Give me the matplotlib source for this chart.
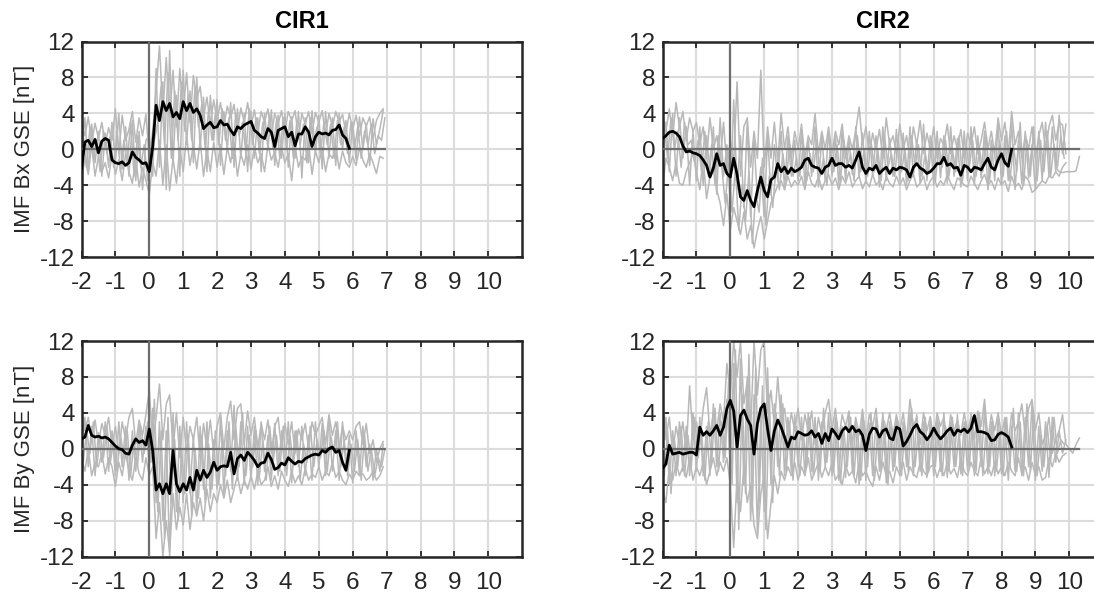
import numpy as np
import matplotlib
matplotlib.use('Agg')
import matplotlib.pyplot as plt

plt.rcParams['font.family'] = ['Liberation Sans', 'DejaVu Sans']
plt.rcParams['axes.unicode_minus'] = False

DT = 0.1  # days between samples

# ---- CIR1, IMF Bx (start -2.0 d) ----
cir1_bx_mean = [
    -2.1, 0.8, 1.0, 0.3, 1.1, -0.4, 0.9, 1.2, 1.0, -1.2,
    -1.5, -1.6, -1.4, -1.8, -1.5, -0.3, -0.9, -1.2, -1.6, -1.5,
    -2.5, 0.3, 4.9, 3.2, 5.3, 4.3, 5.1, 3.6, 4.1, 3.4,
    5.3, 4.3, 5.1, 4.1, 4.5, 3.8, 2.3, 2.7, 3.0, 2.4,
    2.5, 3.2, 2.7, 2.8, 2.1, 1.6, 2.5, 2.3, 2.7, 2.9,
    3.1, 2.1, 1.8, 1.4, 1.2, 2.3, 1.9, 0.3, 2.1, 2.3,
    2.5, 1.4, 1.9, 0.4, 1.7, 1.7, 2.5, 1.9, 0.3, 1.4,
    1.9, 1.7, 1.8, 1.6, 2.1, 2.2, 2.7, 1.6, 1.2, 0.1,
]
cir1_bx_ev1 = [
    3.2, 1.5, 3.6, 0.8, 2.9, 1.2, 3.0, 0.5, 2.4, 1.0,
    4.5, -0.5, 3.8, 1.0, 2.2, 4.2, 0.8, 3.5, 1.5, 3.9,
    -1.0, 2.0, 6.5, 11.5, 4.0, 10.2, 3.5, 8.8, 2.5, 9.0,
    4.0, 8.5, 3.0, 8.2, 5.5, 7.0, 3.5, 5.8, 2.8, 5.5,
    3.2, 5.2, 2.5, 4.8, 3.5, 5.0, 2.0, 4.6, 3.0, 5.2,
    2.5, 4.4, 1.8, 4.2, 3.0, 4.5, 1.5, 4.0, 2.8, 4.3,
    2.0, 4.2, 3.2, 4.3, 1.2, 4.0, 2.8, 4.2, 1.8, 4.1,
    3.0, 4.3, 1.5, 4.0, 2.5, 4.2, 3.0, 3.9, 1.8, 4.0,
    2.2, 3.8, 1.5, 3.5, 2.6, 3.6, 1.2, 3.2, 4.0, 4.5,
]
cir1_bx_ev2 = [
    -3.5, -1.0, -2.8, 0.5, -3.0, -0.8, -2.5, -1.5, -3.2, -0.5,
    -2.8, -1.2, -3.5, -0.5, -2.5, -3.8, -1.0, -4.2, -2.0, -3.5,
    -5.0, -1.5, -3.0, 1.0, -4.0, 0.5, -4.6, -1.0, -3.8, 0.2,
    -2.5, 1.5, -1.8, 0.5, -2.2, 1.0, -3.0, 0.0, -2.5, 0.8,
    -2.0, 0.5, -2.8, 0.2, -1.5, 0.8, -3.0, -0.5, -1.8, 0.5,
    -2.2, 0.3, -1.5, -0.5, -2.5, 0.5, -1.2, -0.3, -2.0, 0.2,
    -1.5, -0.5, -3.5, 0.3, -2.0, -0.8, -1.2, 0.5, -2.8, -0.2,
    -1.5, 0.2, -2.5, -0.5, -1.0, 0.4, -2.2, -0.2, -1.5, -2.0,
    -0.8, -1.8, 0.2, -1.2, -2.0, -0.5, -1.5, -2.7, -0.8, -1.0,
]
cir1_bx_ev3 = [
    0.0, 3.5, -2.5, 2.8, -1.5, 2.0, -3.0, 1.8, -2.0, 3.0,
    -1.5, 4.0, -2.2, 2.5, -3.0, 3.2, -3.5, 2.0, -4.5, 1.0,
    1.5, -3.0, 9.0, -2.0, 7.5, -4.5, 11.0, -1.5, 6.0, -3.0,
    8.8, 0.5, 6.5, -1.5, 8.0, 0.0, 5.8, -2.5, 6.0, 1.0,
    5.5, -1.8, 4.2, 0.0, 5.2, -2.0, 4.5, -1.0, 4.0, -2.5,
    4.2, -1.0, 3.5, -2.5, 4.0, 0.0, 4.4, -1.8, 3.8, -1.0,
    4.0, -2.0, 3.6, -1.0, 4.2, -3.2, 3.5, -1.5, 4.3, -0.5,
    3.8, -2.2, 4.2, -1.0, 3.5, -1.8, 4.0, 0.0, 3.2, -1.5,
    3.0, -1.2, 3.6, 0.0, 2.8, -1.8, 3.4, 0.5, 2.2, 4.3,
]
# sampled half a step later (start -1.95 d)
cir1_bx_ev4 = [
    1.5, -2.0, 2.5, -1.0, 1.0, -2.5, 2.0, -0.5, 1.5, -2.0,
    2.0, -2.5, 1.0, -1.5, 3.0, -3.0, 1.5, -2.0, 0.5, -3.5,
    -1.5, 1.0, 3.0, 7.0, 0.5, 8.5, -1.0, 6.5, 1.0, 7.5,
    2.0, 6.0, 1.0, 7.0, 2.5, 5.0, 0.0, 4.5, 1.0, 4.0,
    0.5, 4.5, 1.0, 3.5, -1.0, 4.0, 1.5, 3.0, -0.5, 4.5,
    0.5, 3.5, -0.5, 3.0, 1.0, 3.8, 0.0, 3.2, -1.0, 3.5,
    0.0, 3.2, -1.0, 3.0, 0.5, 2.8, -1.5, 3.5, 0.5, 2.5,
    -0.5, 3.0, 0.5, 2.8, -1.0, 3.2, 0.5, 2.5, -0.5, 3.0,
    0.0, 2.5, -1.0, 2.0, 0.5, 2.8, -0.5, 1.5, 1.0, 3.5,
]

# ---- CIR2, IMF Bx ----
cir2_bx_mean = [
    1.2, 1.5, 1.9, 2.0, 1.8, 1.4, 0.4, -0.3, -0.2, -0.4,
    -0.5, -0.7, -1.2, -1.8, -3.1, -2.1, -0.5, -1.8, -1.6, -2.7,
    -3.1, -1.0, -2.8, -5.3, -5.7, -4.6, -5.7, -6.4, -4.6, -3.1,
    -4.6, -5.3, -3.4, -3.1, -1.6, -2.5, -2.0, -2.7, -2.1, -2.5,
    -2.3, -2.0, -1.2, -1.0, -1.8, -2.0, -2.1, -2.7, -2.0, -1.8,
    -1.0, -1.8, -1.6, -1.6, -2.0, -1.8, -2.1, -1.2, -0.3, -2.0,
    -2.7, -2.1, -2.3, -1.8, -2.7, -2.3, -2.0, -2.7, -2.1, -2.3,
    -2.0, -2.1, -2.3, -3.1, -2.0, -1.6, -2.1, -2.3, -2.7, -2.5,
    -2.1, -1.6, -1.6, -0.9, -1.8, -1.6, -2.1, -2.0, -2.9, -1.8,
    -2.0, -2.5, -2.0, -2.1, -2.3, -1.6, -1.0, -2.0, -2.3, -1.2,
    -0.5, -1.5, -1.9, 0.0,
]
cir2_bx_ev1 = [
    4.0, 2.0, 4.5, 1.5, 5.2, 2.5, 4.2, 1.0, 3.5, 2.0,
    3.0, 0.5, 2.5, -1.0, 3.5, 0.0, 1.5, -1.5, 3.0, -2.0,
    1.0, -1.5, 7.5, -3.0, 2.5, 3.5, -2.0, 2.0, -1.0, 8.8,
    -2.0, 2.5, -1.0, 3.0, -1.5, 4.0, 0.0, 2.5, -1.0, 2.0,
    0.0, 2.8, -1.0, 1.5, 0.5, 4.0, -0.5, 2.0, 0.0, 2.5,
    -0.5, 2.0, 0.5, 2.8, -1.0, 1.5, 0.0, 2.0, 4.7, 0.5,
    2.5, -0.5, 1.8, 0.0, 2.2, -1.0, 3.5, 0.5, 1.5, -0.5,
    2.8, 0.0, 1.5, -1.0, 2.5, 0.5, 3.2, -0.5, 1.8, 0.0,
    2.5, -1.0, 1.2, 0.5, 2.8, -0.5, 1.5, 0.0, 2.2, -1.0,
    1.8, 0.5, 2.5, -0.5, 1.0, 3.0, 0.0, 2.0, -0.5, 3.5,
    1.0, 3.0, -0.5, 4.2, 0.5, 2.0, -1.0, 1.5, 0.0, 2.5,
    -1.0, 1.5, 3.0, 0.0, 2.5, 3.8, 1.0, 3.0, 2.7, -0.5,
]
cir2_bx_ev2 = [
    -4.5, -1.0, -2.0, -3.5, -1.5, -3.8, -4.0, -2.5, -1.5, -0.5,
    -2.5, -4.5, -1.0, -5.5, -3.0, -1.5, -4.5, -6.0, -8.5, -5.0,
    -9.0, -6.5, -8.0, -9.5, -7.0, -10.0, -8.5, -11.0, -9.0, -7.5,
    -10.0, -8.0, -6.0, -5.0, -4.0, -3.5, -4.5, -3.0, -4.2, -3.5,
    -4.0, -3.0, -4.5, -2.5, -3.8, -4.2, -3.0, -4.5, -3.5, -2.8,
    -4.0, -3.2, -4.5, -3.0, -3.8, -2.5, -4.2, -3.5, -3.0, -4.4,
    -3.5, -4.2, -2.8, -4.0, -3.5, -4.5, -3.0, -3.8, -4.2, -3.0,
    -4.0, -3.2, -4.5, -3.5, -2.8, -4.2, -3.8, -3.0, -4.5, -3.5,
    -3.0, -4.2, -3.5, -4.0, -2.8, -3.8, -4.5, -3.2, -3.5, -4.0,
    -4.2, -3.0, -3.8, -4.5, -3.5, -2.8, -4.0, -3.5, -4.5, -3.2,
    -4.0, -3.5, -4.7, -3.0, -4.2, -3.8, -4.5, -3.0, -3.5, -4.8,
    -4.5, -4.0, -3.5, -3.8, -3.0, -3.2, -2.5, -3.0, -2.0, -1.5,
]
cir2_bx_ev3 = [
    0.0, 3.0, -2.5, 4.0, -3.0, 3.5, -1.0, 2.5, -4.0, 2.0,
    -3.5, 2.5, -4.0, 1.5, -2.5, 2.5, -5.0, 3.5, -3.0, 0.5,
    -6.0, 5.5, -4.5, 1.5, -6.5, 3.0, -7.5, 1.0, -5.5, -2.0,
    -7.5, 1.5, -5.0, 0.5, -3.5, 2.0, -4.5, 1.5, -3.0, 1.0,
    -3.5, 2.0, -4.0, 1.0, -3.0, 2.5, -4.2, 1.5, -3.5, 2.0,
    -3.0, 1.5, -4.0, 2.2, -3.5, 1.0, -2.8, 2.5, -3.2, 1.8,
    -3.8, 2.0, -3.0, 1.5, -4.2, 2.5, -3.5, 1.2, -3.0, 2.2,
    -3.5, 1.8, -4.0, 2.5, -3.0, 1.0, -3.8, 2.8, -3.5, 1.5,
    -4.0, 2.0, -3.2, 1.5, -3.8, 2.5, -3.0, 1.2, -4.2, 2.0,
    -3.5, 2.5, -4.0, 1.5, -3.2, 2.0, -4.5, 1.0, -3.5, 2.8,
    -4.0, 1.5, -3.5, 3.0, -4.5, 1.0, -3.8, 2.0, -3.2, 0.5,
    -4.5, 2.0, -3.5, 3.0, -3.0, 2.5, -2.5, 3.8, -0.5, 2.8,
]
cir2_bx_ev4 = [
    2.5, -1.0, 3.5, 0.0, 2.0, -2.0, 3.0, 0.5, 1.0, -1.5,
    1.0, -2.5, 2.0, -3.0, 0.5, -4.0, 1.5, -2.0, -6.0, -1.5,
    -7.0, -2.0, -9.0, -4.0, -8.0, -2.5, -10.5, -5.0, -7.0, -1.0,
    -8.5, -3.0, -6.5, -2.0, -4.5, -0.5, -3.5, 0.5, -3.0, -1.0,
    -3.0, 0.5, -3.5, -0.5, -2.5, 1.0, -3.0, -1.0, -4.0, 0.0,
    -2.5, 0.5, -3.5, 1.0, -2.0, -0.5, -3.5, 1.5, -2.5, 0.0,
    -3.0, 1.0, -2.5, 0.0, -3.5, 1.5, -2.0, -0.5, -3.0, 1.0,
    -2.5, 0.0, -3.5, 1.5, -2.0, 0.5, -3.0, -0.5, -2.5, 1.0,
    -3.5, 0.5, -2.0, 1.0, -3.0, 0.0, -2.5, 1.5, -3.5, 0.5,
    -2.0, 1.0, -3.0, 0.0, -2.5, 1.5, -3.5, 0.5, -2.0, 1.0,
    -3.0, 2.0, -3.5, 0.5, -2.5, 3.0, -4.0, 1.0, -3.0, 2.5,
    -3.5, 1.0, -2.5, 2.0, -3.0, 0.5, -2.0, 1.5, -1.0,
]
# short quiet event at the end of the CIR2 window (start 9.6 d)
cir2_bx_tail = [-2.0, -2.5, -2.6, -2.5, -2.5, -2.5, -2.4, -0.8]

# ---- CIR1, IMF By ----
cir1_by_mean = [
    1.1, 1.3, 2.6, 1.5, 1.3, 1.4, 1.2, 1.3, 1.1, 0.7,
    0.3, 0.0, -0.1, -0.5, -0.6, 0.4, 1.1, 0.7, 0.9, 0.4,
    2.2, -0.2, -4.6, -3.9, -5.0, -3.9, -5.0, -0.2, -3.9, -4.8,
    -3.9, -4.6, -3.2, -4.6, -2.4, -3.5, -2.4, -3.2, -2.6, -1.5,
    -2.4, -2.0, -1.9, -2.0, -0.4, -2.8, -1.1, -0.7, -1.3, -0.4,
    -0.8, -1.3, -2.0, -1.6, -1.5, -0.5, -1.2, -2.3, -2.1, -1.6,
    -1.8, -1.0, -1.4, -1.7, -1.4, -1.5, -1.1, -0.9, -0.7, -0.6,
    -0.7, -0.2, -0.4, 0.0, 0.2, -0.4, -0.2, -1.5, -2.4, -0.2,
]
cir1_by_ev1 = [
    4.5, 2.0, 3.5, 1.0, 3.2, 0.5, 2.8, 1.5, 3.5, 0.2,
    2.5, -0.5, 3.0, 1.0, 3.5, 4.5, 0.5, 3.2, 1.5, 3.8,
    6.5, 0.5, 3.5, 7.2, 1.0, 5.0, 6.0, 0.0, 4.0, -1.0,
    3.5, -0.5, 2.5, 1.0, 3.5, -1.0, 2.8, 0.0, 3.2, -0.5,
    2.5, 4.0, 0.0, 3.5, 5.3, 1.0, 4.5, 5.0, 0.5, 4.2,
    1.5, 3.5, 0.0, 2.8, 1.0, 3.2, -0.5, 2.5, 3.5, 0.0,
    2.8, 0.5, 3.0, -0.5, 2.2, 1.0, 2.8, 0.0, 3.0, 1.5,
    2.5, 3.5, 0.5, 3.8, 1.5, 3.0, 0.0, 2.5, 1.0, 2.0,
    1.0, 2.5, 3.0, 0.5, 2.8, -0.5, 1.0, -1.5, 0.0, 0.8,
]
cir1_by_ev2 = [
    -1.0, -2.5, 0.0, -3.0, -1.5, -2.0, -0.5, -2.8, -1.0, -2.0,
    -4.2, -1.5, -3.0, -0.5, -2.5, -3.5, -1.0, -2.8, -3.5, -1.0,
    -3.0, -2.0, -10.0, -6.0, -12.0, -8.0, -11.5, -5.0, -9.0, -6.5,
    -8.5, -5.0, -9.0, -6.0, -7.5, -5.5, -8.0, -4.5, -7.0, -5.0,
    -6.0, -4.0, -5.5, -3.5, -6.0, -4.5, -3.0, -5.0, -3.5, -4.5,
    -3.0, -4.5, -2.5, -4.0, -3.5, -2.0, -4.2, -3.0, -4.5, -2.5,
    -3.5, -4.2, -2.5, -3.8, -3.0, -4.0, -2.2, -3.5, -2.8, -3.2,
    -2.0, -3.5, -2.5, -3.0, -1.5, -3.2, -2.5, -3.5, -4.0, -2.8,
    -3.5, -2.5, -3.0, -2.8, -3.5, -3.2, -2.5, -3.5, -3.0, -2.0,
]
cir1_by_ev3 = [
    0.5, 3.5, -2.0, 2.5, -3.0, 1.8, -1.5, 3.0, -2.5, 2.0,
    -3.0, 3.0, -2.0, 2.5, -3.5, 2.0, -2.5, 3.0, -1.5, 2.5,
    -2.0, 4.5, -6.0, 3.0, -8.0, 2.0, -12.0, 4.0, -7.0, 2.5,
    -6.0, 3.0, -5.0, 1.5, -7.0, 2.5, -4.5, 3.0, -5.5, 1.0,
    -4.5, 3.5, -5.0, 2.0, -2.5, 4.8, -3.5, 3.0, -4.0, 2.5,
    -3.5, 2.5, -4.0, 3.0, -2.5, 1.5, -3.5, 2.8, -3.0, 2.0,
    -2.5, 3.0, -3.8, 2.0, -2.0, 2.5, -3.0, 1.5, -3.5, 3.0,
    -2.2, 2.8, -3.0, 3.5, -2.5, 2.0, -3.5, 3.0, -2.0, 1.5,
    -3.8, 2.0, -3.0, 2.5, -2.0, 0.5, -3.5, 0.0, -2.5, 0.5,
]
cir1_by_ev4 = [
    -1.5, 2.0, -0.5, 3.0, -2.0, 1.5, -1.0, 2.5, -1.5, 1.0,
    -2.5, 1.5, -1.0, 2.0, -3.0, 1.0, -2.0, 2.5, -0.5, 3.0,
    -1.5, 5.5, -7.0, 2.0, -10.0, 3.5, -6.0, 1.0, -8.0, 0.0,
    -5.0, 1.5, -7.5, 0.0, -5.5, 1.5, -6.0, 0.5, -4.5, 2.0,
    -4.0, 1.0, -3.0, 3.0, -4.5, 2.5, -2.0, 4.0, -3.0, 1.5,
    -2.0, 2.0, -3.0, 1.0, -3.5, 2.5, -1.5, 1.5, -2.5, 2.5,
    -3.0, 1.5, -2.0, 2.0, -3.5, 0.5, -1.5, 2.5, -2.0, 1.0,
    -1.0, 2.0, -2.5, 1.5, -0.5, 3.0, -2.0, 1.0, -3.0, 0.5,
    -2.5, 1.0, -3.5, 1.5, -2.5, 0.0, -3.0, -1.0, -2.0, 0.0,
]

# ---- CIR2, IMF By ----
cir2_by_mean = [
    -2.2, -1.7, 0.4, -0.6, -0.5, -0.4, -0.6, -0.5, -0.4, -0.4,
    -0.7, 2.4, 1.5, 1.9, 1.5, 2.0, 2.6, 1.5, 2.4, 4.5,
    5.4, 4.2, 0.2, 3.7, 4.3, 3.3, 2.6, -0.6, 2.8, 4.5,
    5.0, 2.2, -0.2, 2.0, 3.2, 2.4, 1.3, 0.2, 1.3, 1.1,
    1.9, 1.7, 1.5, 1.6, 2.0, 1.3, 1.7, 0.6, 1.7, 0.9,
    2.2, 1.7, 1.1, 2.0, 2.4, 1.9, 2.5, 1.9, 2.1, 1.5,
    -0.2, 1.6, 2.3, 2.2, 1.3, 2.0, 2.2, 1.2, 1.0, 2.4,
    2.2, 0.3, 0.8, 1.5, 2.3, 2.7, 1.9, 1.6, 1.0, 1.5,
    2.3, 1.6, 1.1, 1.5, 2.0, 2.3, 1.5, 2.1, 1.9, 2.2,
    1.8, 2.3, 3.7, 1.9, 1.9, 1.8, 1.6, 0.9, 1.0, 1.6,
    1.8, 1.6, 1.3, 0.2,
]
cir2_by_ev1 = [
    6.0, 1.0, 3.5, -0.5, 2.5, 0.5, 3.0, -0.5, 7.0, 1.0,
    3.0, 0.5, 4.5, 6.8, 1.5, 4.0, 2.0, 5.0, 3.0, 9.5,
    6.0, 12.0, 8.0, 12.0, 5.0, 7.5, 2.0, 12.0, 6.0, 11.0,
    12.0, 4.0, 6.5, 2.5, 8.0, 3.0, 4.5, 1.5, 4.0, 2.0,
    4.5, 1.0, 3.8, 2.0, 4.2, 0.5, 3.5, 1.5, 4.0, 5.5,
    2.0, 4.5, 1.0, 3.8, 2.5, 4.2, 0.5, 3.5, 1.5, 4.4,
    1.0, 3.8, 2.5, 4.5, 0.5, 3.5, 2.0, 4.0, 1.5, 3.8,
    2.0, 4.0, 1.0, 5.5, 2.5, 3.5, 0.5, 4.0, 2.0, 3.6,
    1.0, 4.0, 2.5, 3.5, 0.5, 3.8, 2.0, 3.2, 1.5, 4.0,
    2.0, 3.5, 1.0, 4.2, 2.5, 5.5, 1.0, 3.8, 2.0, 4.0,
    1.5, 3.5, 0.5, 4.0, 2.0, 3.0, 5.0, 1.5, 4.5, 5.5,
    2.0, 4.0, 0.5, 1.5, 3.5, -0.5, 1.0, 2.0, 3.8, 0.5,
    0.0, -0.5, 0.5, 1.2,
]
cir2_by_ev2 = [
    -4.5, -6.0, -2.0, -3.5, -1.5, -3.0, -2.0, -3.2, -1.0, -3.5,
    -2.0, -3.0, -1.5, -4.0, -2.5, -1.0, -3.0, -1.5, -2.5, -1.0,
    -4.0, -11.0, -3.0, -7.0, -2.0, -6.0, -4.0, -8.5, -10.0, -5.0,
    -3.0, -10.0, -6.0, -3.0, -5.0, -2.5, -3.5, -2.0, -3.0, -1.5,
    -3.5, -2.0, -3.0, -1.0, -3.5, -2.5, -1.5, -3.2, -2.0, -3.0,
    -1.5, -3.5, -2.8, -4.0, -1.8, -3.0, -2.5, -3.8, -1.5, -3.0,
    -2.5, -3.5, -4.2, -2.0, -3.5, -1.5, -3.0, -2.5, -3.8, -2.0,
    -3.0, -1.5, -3.5, -2.0, -2.8, -3.2, -1.5, -2.5, -3.0, -2.0,
    -1.8, -3.2, -2.0, -3.0, -1.5, -2.8, -2.2, -3.2, -1.0, -2.5,
    -3.0, -1.5, -2.5, -3.0, -1.0, -2.8, -2.0, -3.0, -1.5, -2.8,
    -2.0, -3.0, -1.5, -2.5, -3.0, -1.0, -2.8, -2.0, -3.5, -1.5,
    -3.0, -2.0, -3.5, -3.2, -1.0, -2.0, -0.5, -1.5, -0.8, -0.5,
]
cir2_by_ev3 = [
    0.0, 3.5, -4.0, 2.0, -3.0, 3.0, -2.5, 2.5, -3.0, 4.0,
    -2.5, 3.5, -3.0, 2.5, -3.0, 5.0, -2.0, 4.0, -1.5, 5.5,
    -2.0, 9.5, -6.0, 10.0, -4.0, 8.0, -8.0, 6.0, -9.5, 4.0,
    -7.0, 9.0, -4.0, 5.0, -2.0, 6.0, -3.0, 3.5, -2.5, 3.8,
    -2.0, 3.5, -3.0, 4.0, -2.5, 3.5, -3.5, 3.0, -2.0, 4.0,
    -3.0, 3.5, -3.5, 2.5, -3.2, 4.0, -2.5, 3.0, -4.0, 3.8,
    -3.5, 2.8, -3.0, 3.5, -2.5, 4.0, -3.8, 3.0, -2.5, 3.5,
    -2.5, 3.0, -2.0, 4.0, -3.0, 3.8, -2.5, 3.0, -3.2, 3.5,
    -3.0, 3.5, -2.5, 4.0, -3.2, 3.0, -2.0, 3.8, -2.8, 3.0,
    -2.5, 4.0, -3.0, 3.5, -2.0, 4.5, -2.8, 3.0, -3.0, 3.5,
    -2.8, 3.0, -3.5, 2.5, -2.5, 4.0, -3.0, 3.5, -2.0, 5.0,
    -3.5, 2.5, -2.5, 3.0, -3.2, 3.5, -1.5, 2.0, -0.5, 1.0,
]
cir2_by_ev4 = [
    -3.0, 2.0, -5.0, 1.0, -2.0, 2.5, -3.0, 1.5, -2.0, 3.5,
    -1.0, 2.0, -3.5, 3.0, -1.5, 4.5, -2.5, 3.0, -1.0, 7.5,
    -4.0, 11.0, -9.0, 6.0, -5.0, 10.5, -7.0, 9.0, -6.0, 7.0,
    -9.0, 6.0, -6.0, 4.0, -3.0, 5.0, -2.5, 3.0, -3.5, 2.5,
    -3.0, 2.0, -2.0, 3.5, -3.0, 2.0, -2.5, 4.5, -1.5, 2.5,
    -2.5, 3.0, -3.8, 2.0, -2.0, 3.5, -3.0, 2.5, -3.5, 3.0,
    -2.0, 4.0, -3.5, 2.0, -2.5, 3.0, -4.0, 2.5, -2.0, 3.0,
    -3.0, 2.5, -2.5, 4.5, -2.0, 2.0, -3.0, 3.5, -2.5, 2.0,
    -2.0, 3.0, -3.0, 2.5, -2.5, 3.5, -2.0, 2.0, -3.0, 3.0,
    -2.0, 3.5, -2.5, 4.0, -3.0, 2.5, -2.0, 3.0, -2.5, 2.0,
    -3.0, 3.5, -2.0, 4.5, -2.5, 3.0, -3.0, 5.0, -2.5, 4.0,
    -3.0, 1.5, -2.0, 2.5, -1.5, 3.5, -0.5, 1.0, 0.5,
]

titles = ['CIR1', 'CIR2']
ylabels = ['IMF Bx GSE [nT]', 'IMF By GSE [nT]']
xticks = list(range(-2, 11))
yticks = list(range(-12, 13, 4))

TXT = '#262626'
GREY = '#b8b8b8'
REF = '#6e6e6e'


def times(vals, t0=-2.0):
    return t0 + DT * np.arange(len(vals))


def draw(ax, events, mean):
    t_end = -2.0
    for vals, t0 in events:
        t = times(vals, t0)
        ax.plot(t, vals, color=GREY, lw=1.1, zorder=2)
        t_end = max(t_end, t[-1])
    ax.plot([-2.0, t_end], [0, 0], color=REF, lw=1.6, zorder=3)
    ax.axvline(0, color=REF, lw=1.6, zorder=3)
    ax.plot(times(mean), mean, color='black', lw=2.0, zorder=4)

    ax.set_xlim(-2, 11)
    ax.set_ylim(-12, 12)
    ax.set_xticks(xticks)
    ax.set_yticks(yticks)
    ax.grid(True, color='#dcdcdc', lw=1.5)
    ax.set_axisbelow(True)
    ax.tick_params(direction='in', top=True, right=True, length=4, width=1.3,
                   labelsize=17.5, colors=TXT)
    ax.tick_params(axis='x', pad=11)
    ax.tick_params(axis='y', pad=5)
    for s in ax.spines.values():
        s.set_linewidth(1.8)
        s.set_color(TXT)


fig = plt.figure(figsize=(10.94, 5.92), dpi=100)
W, H = 1094.0, 592.0
lefts = [81.5 / W, 662.5 / W]
bottoms = [(H - 257) / H, (H - 556.5) / H]
aw, ah = 440.7 / W, 215.5 / H

panels = [
    [[(cir1_bx_ev1, -2.0), (cir1_bx_ev2, -2.0), (cir1_bx_ev3, -2.0),
      (cir1_bx_ev4, -1.95)], cir1_bx_mean],
    [[(cir2_bx_ev1, -2.0), (cir2_bx_ev2, -2.0), (cir2_bx_ev3, -2.0),
      (cir2_bx_ev4, -1.95), (cir2_bx_tail, 9.6)], cir2_bx_mean],
    [[(cir1_by_ev1, -2.0), (cir1_by_ev2, -2.0), (cir1_by_ev3, -2.0),
      (cir1_by_ev4, -1.95)], cir1_by_mean],
    [[(cir2_by_ev1, -2.0), (cir2_by_ev2, -2.0), (cir2_by_ev3, -2.0),
      (cir2_by_ev4, -1.95)], cir2_by_mean],
]

for i, (events, mean) in enumerate(panels):
    row, col = divmod(i, 2)
    ax = fig.add_axes([lefts[col], bottoms[row], aw, ah])
    draw(ax, events, mean)
    if row == 0:
        ax.set_title(titles[col], fontsize=17, fontweight='bold', color='black', pad=10)
    if col == 0:
        ax.set_ylabel(ylabels[row], fontsize=16, color=TXT, labelpad=3)

fig.savefig('out.png', dpi=100)
